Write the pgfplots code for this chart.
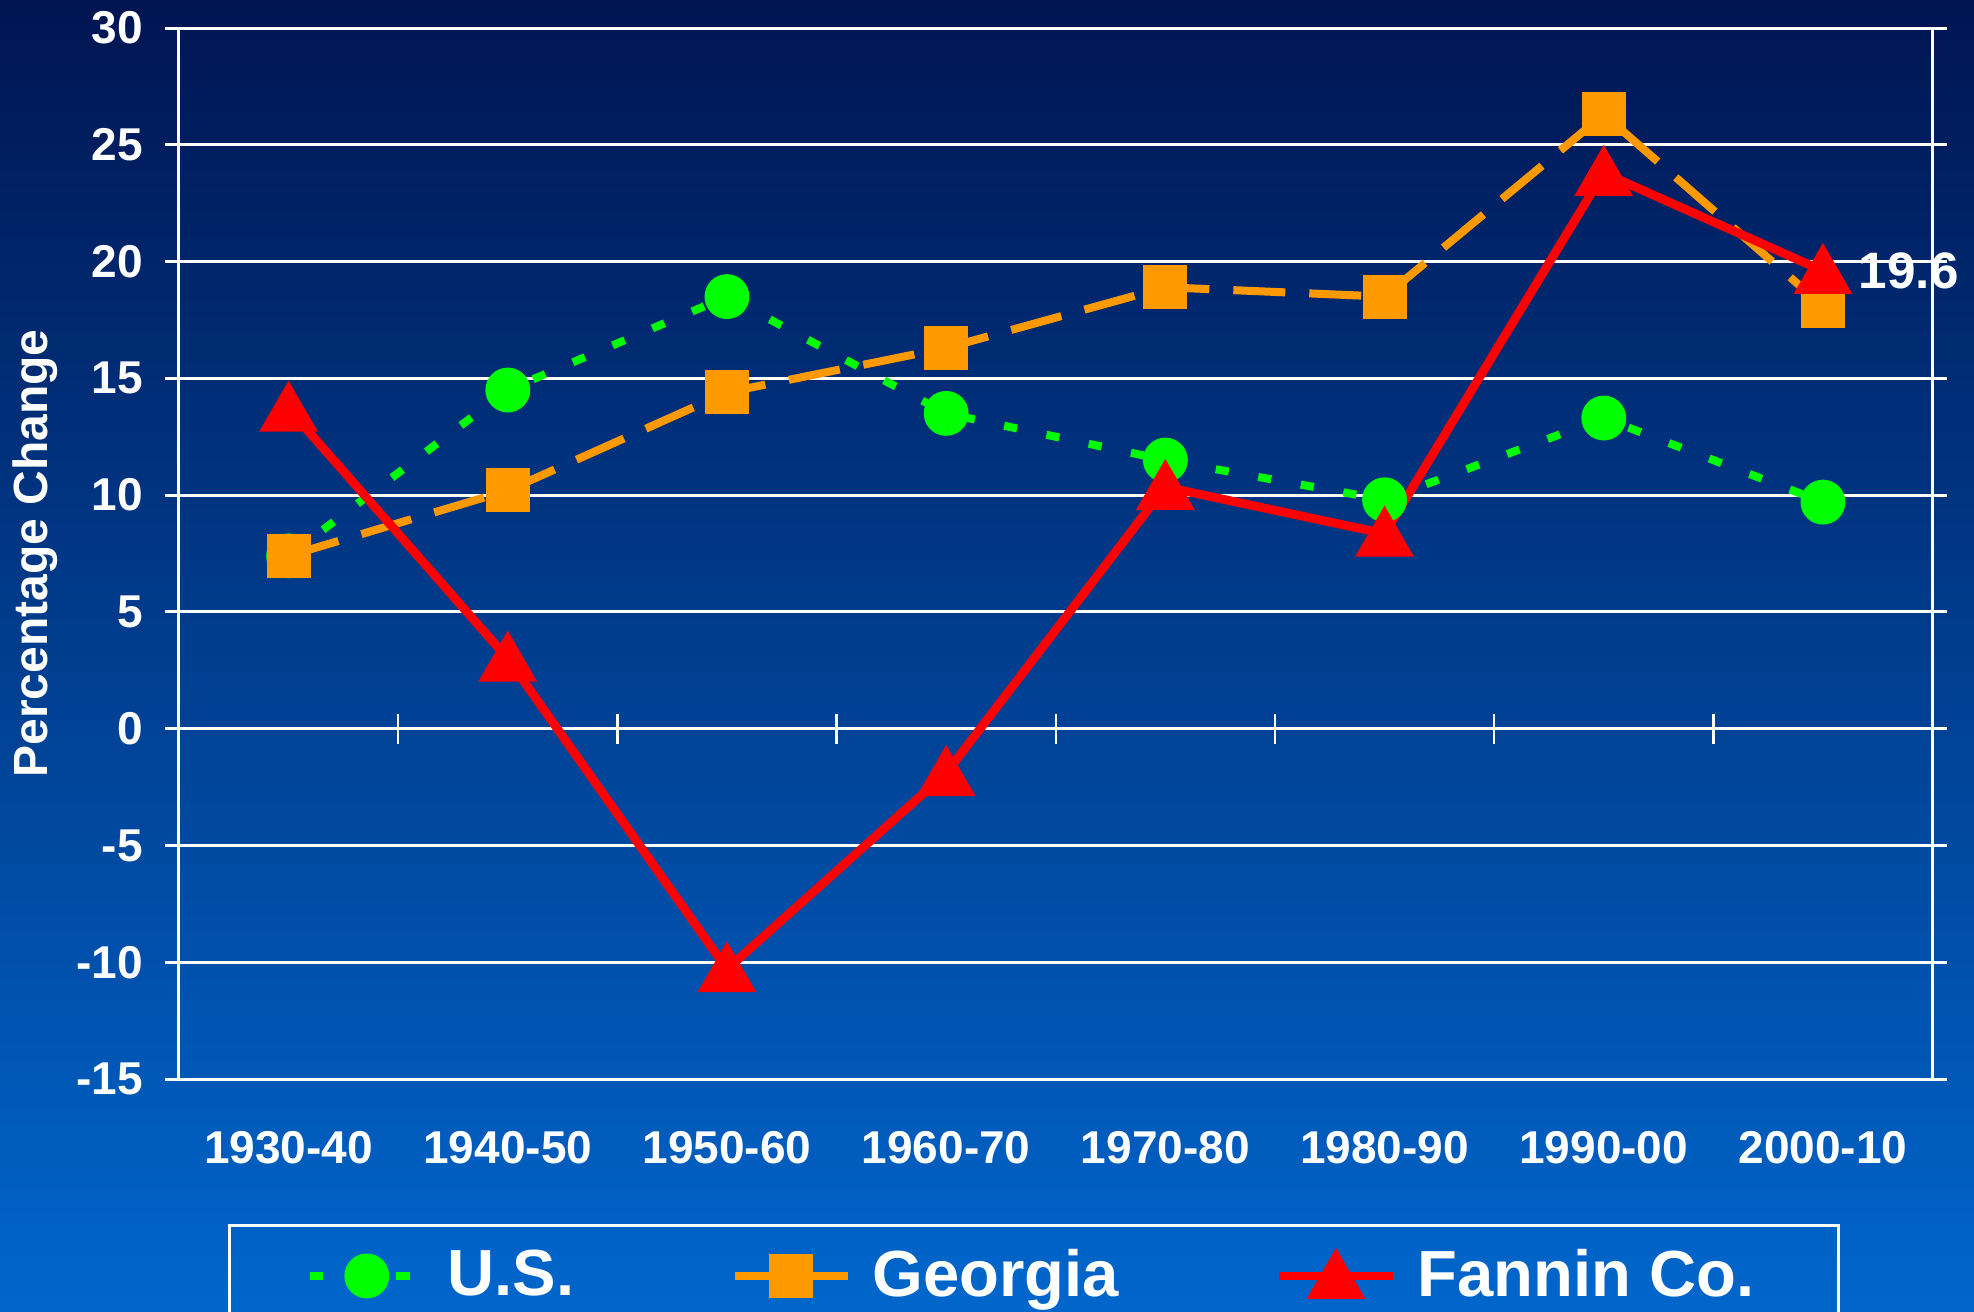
\documentclass[border=0pt]{standalone}
\usepackage{pgfplots}
\pgfplotsset{compat=1.18}
\usepackage{fontspec}
\setmainfont{Liberation Sans}
\definecolor{bgtop}{RGB}{0,21,82}
\definecolor{bgbot}{RGB}{0,102,204}
\definecolor{usgreen}{RGB}{0,255,0}
\definecolor{gaorange}{RGB}{255,153,0}
\definecolor{fnred}{RGB}{255,0,0}
\begin{document}
\begin{tikzpicture}
\useasboundingbox (0,0) rectangle (493.5pt,327.75pt);
\shade[top color=bgtop, bottom color=bgbot] (0,0) rectangle (493.5pt,327.75pt);
\begin{axis}[
  at={(44.75pt,58pt)}, anchor=south west,
  scale only axis, width=438.4pt, height=262.75pt,
  xmin=-0.5, xmax=7.5, ymin=-15, ymax=30,
  xtick={0,...,7},
  xticklabels={1930-40,1940-50,1950-60,1960-70,1970-80,1980-90,1990-00,2000-10},
  ytick={-15,-10,-5,0,5,10,15,20,25,30},
  yticklabels={-15,-10,-5,0,5,10,15,20,25,30},
  ymajorgrids, major grid style={white, line width=0.75pt},
  axis line style={white, line width=0.75pt},
  x tick style={draw=none}, y tick style={white, line width=0.75pt},
  xtick align=inside, ytick align=outside, major tick length=3.5pt,
  tick label style={text=white, font=\fontsize{11.5}{13}\selectfont\bfseries},
  xticklabel style={yshift=-9.5pt},
  yticklabel style={xshift=-2pt},
  ylabel={Percentage Change},
  every axis y label/.style={at={(axis description cs:-0.082,0.5)}, rotate=90, anchor=center, text=white, font=\fontsize{12}{14}\selectfont\bfseries},
  legend columns=3,
  legend style={at={(0.4876,-0.1378)}, anchor=north, draw=white, line width=0.75pt, fill=none, text=white,
    font=\fontsize{16.3}{18}\selectfont\bfseries, inner xsep=19pt, inner ysep=4pt},
  /tikz/every odd column/.append style={column sep=3pt},
  /tikz/every even column/.append style={column sep=37pt},
  legend image code/.code={\draw[mark repeat=2,mark phase=2,#1] plot coordinates {(0cm,0cm) (0.5cm,0cm) (1cm,0cm)};},
  clip=false,
]
\pgfplotsinvokeforeach{0.5,1.5,2.5,3.5,4.5,5.5,6.5}{\draw[white, line width=0.6pt] (axis cs:#1,-0.64) -- (axis cs:#1,0.64);}
\addplot[usgreen, line width=2pt, dash pattern=on 3.3pt off 7.5pt, mark=*, mark size=4.6pt, mark options={solid, fill=usgreen, draw=none}]
  coordinates {(0,7.4) (1,14.5) (2,18.5) (3,13.5) (4,11.5) (5,9.8) (6,13.3) (7,9.7)};
\addlegendentry{U.S.}
\addplot[gaorange, line width=2pt, dash pattern=on 13pt off 6pt, mark=square*, mark size=4.5pt, mark options={solid, fill=gaorange, draw=none}]
  coordinates {(0,7.4) (1,10.2) (2,14.4) (3,16.3) (4,18.9) (5,18.5) (6,26.3) (7,18.1)};
\addlegendentry{Georgia}
\addplot[fnred, line width=2.2pt, mark=triangle*, mark size=6.3pt, mark options={solid, fill=fnred, draw=none, yshift=-1.5pt}]
  coordinates {(0,13.7) (1,3.0) (2,-10.3) (3,-1.9) (4,10.35) (5,8.35) (6,23.8) (7,19.6)};
\addlegendentry{Fannin Co.}
\node[anchor=west, text=white, font=\fontsize{12.8}{14}\selectfont\bfseries, inner sep=0pt] at (axis cs:7,19.6) [xshift=8.8pt] {19.6};
\end{axis}
\end{tikzpicture}
\end{document}
